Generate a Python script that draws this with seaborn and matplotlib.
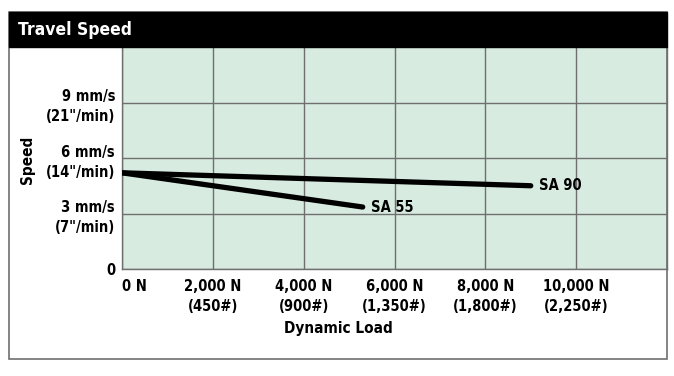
import matplotlib
matplotlib.use("Agg")
import matplotlib.pyplot as plt
import matplotlib.transforms as mtransforms
import seaborn as sns
import pandas as pd
from matplotlib.patches import Rectangle

# ---- data ----
models = ["SA 90", "SA 55"]
sa90_load = [0, 9000]
sa90_speed = [5.2, 4.5]
sa55_load = [0, 5300]
sa55_speed = [5.2, 3.35]
x_ticks = [0, 2000, 4000, 6000, 8000, 10000]
x_tick_labels = ["0 N\n", "2,000 N\n(450#)", "4,000 N\n(900#)", "6,000 N\n(1,350#)",
                 "8,000 N\n(1,800#)", "10,000 N\n(2,250#)"]
y_ticks = [0, 3, 6, 9]
y_tick_labels = ["0", "3 mm/s\n(7\"/min)", "6 mm/s\n(14\"/min)", "9 mm/s\n(21\"/min)"]

df = pd.DataFrame({
    "model": ["SA 90"] * len(sa90_load) + ["SA 55"] * len(sa55_load),
    "load": sa90_load + sa55_load,
    "speed": sa90_speed + sa55_speed,
})

sns.set_theme(style="white")
FONT = ["DejaVu Sans"]
plt.rcParams["font.family"] = FONT
plt.rcParams["font.weight"] = "bold"
plt.rcParams["font.stretch"] = "condensed"
for k in ["text.color", "axes.labelcolor", "xtick.color", "ytick.color"]:
    plt.rcParams[k] = "black"

W, H = 674, 376
fig = plt.figure(figsize=(W / 100, H / 100), dpi=100)

def fx(px):
    return px / W

def fy(py):
    return 1 - py / H

GRID = "#6f6f6f"
# outer border
fig.patches.append(Rectangle((fx(9), fy(359)), fx(667) - fx(9), fy(12) - fy(359),
                             transform=fig.transFigure, fill=False, edgecolor=GRID,
                             linewidth=1.2, zorder=0))
# title bar
fig.patches.append(Rectangle((fx(9), fy(47)), fx(667) - fx(9), fy(12) - fy(47),
                             transform=fig.transFigure, facecolor="black",
                             edgecolor="black", zorder=1))
fig.text(fx(18), fy(30), "Travel Speed", color="white", fontsize=12.5, fontweight="bold",
         va="center", ha="left", fontstretch="condensed")

ax = fig.add_axes([fx(122), fy(269), fx(667) - fx(122), fy(47) - fy(269)])
ax.set_facecolor("#d7ebe0")

sns.lineplot(data=df, x="load", y="speed", hue="model", units="model", estimator=None,
             palette={"SA 90": "black", "SA 55": "black"}, linewidth=3.8,
             solid_capstyle="round", legend=False, ax=ax, zorder=3)

ax.annotate("SA 90", (sa90_load[-1], sa90_speed[-1]), xytext=(6, 0),
            textcoords="offset points", va="center", ha="left", fontsize=10.5,
            fontweight="bold")
ax.annotate("SA 55", (sa55_load[-1], sa55_speed[-1]), xytext=(6, 0),
            textcoords="offset points", va="center", ha="left", fontsize=10.5,
            fontweight="bold")

ax.set_xlim(0, 12000)
ax.set_ylim(0, 12)
ax.set_xticks(x_ticks)
ax.set_xticklabels(x_tick_labels, fontsize=10.5, fontweight="bold", linespacing=1.45,
                   va="top")
ax.set_yticks(y_ticks)
ax.set_yticklabels(y_tick_labels, fontsize=10.5, fontweight="bold", linespacing=1.45)
first = ax.get_xticklabels()[0]
first.set_ha("left")
first.set_transform(first.get_transform() +
                    mtransforms.ScaledTranslation(4 / 100, 0, fig.dpi_scale_trans))
for lab in ax.get_yticklabels():
    lab.set_transform(lab.get_transform() +
                      mtransforms.ScaledTranslation(0, 2 / 100, fig.dpi_scale_trans))
ax.tick_params(axis="x", length=0, pad=7)
ax.tick_params(axis="y", length=0, pad=5)
ax.grid(True, color=GRID, linewidth=1)
ax.set_axisbelow(True)

for s in ["left", "bottom", "right"]:
    ax.spines[s].set_color(GRID)
    ax.spines[s].set_linewidth(1)
ax.spines["top"].set_visible(False)

ax.set_xlabel("Dynamic Load", fontsize=11, fontweight="bold")
ax.set_ylabel("Speed", fontsize=11, fontweight="bold")
ax.xaxis.set_label_coords((338 - 122) / 545, (269 - 328) / 222)
ax.yaxis.set_label_coords((27 - 122) / 545, 0.49)
ax.xaxis.label.set_va("center")
ax.yaxis.label.set_va("center")

fig.savefig("out.png", dpi=100)
